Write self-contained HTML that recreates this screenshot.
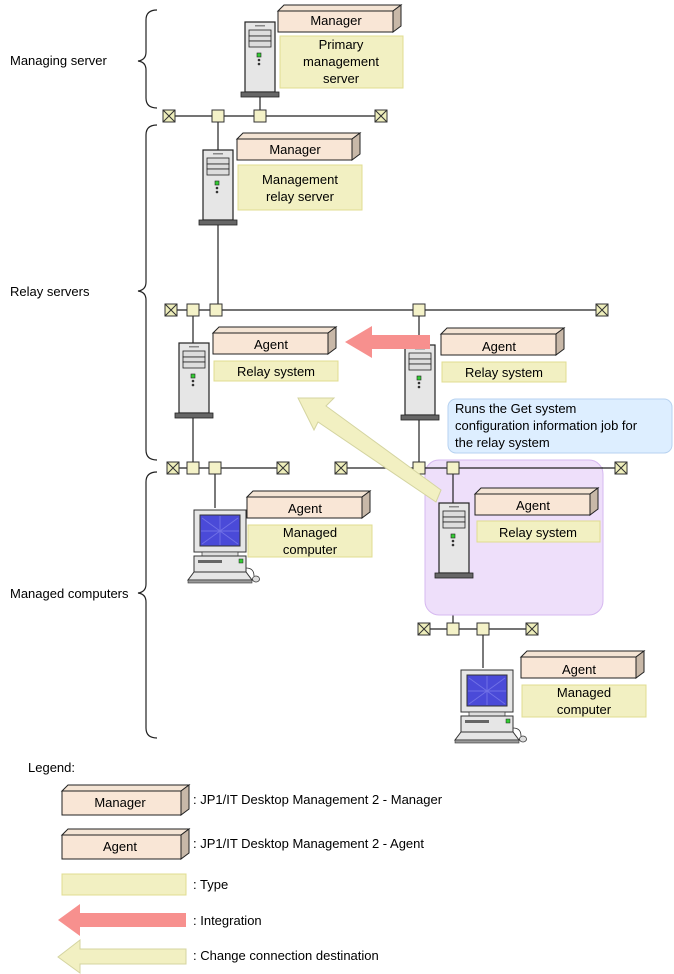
<!DOCTYPE html>
<html><head><meta charset="utf-8"><style>
body{margin:0;background:#fff}
svg{display:block;font-family:"Liberation Sans",sans-serif}
text{font-size:13px;fill:#000}
</style></head><body>
<svg width="674" height="974" viewBox="0 0 674 974" xmlns="http://www.w3.org/2000/svg">
<defs>
<g id="srv">
<rect x="0" y="0" width="30" height="70" fill="#e6e6e6" stroke="#222" stroke-width="1.2"/>
<rect x="4" y="8" width="22" height="6" fill="#ddd" stroke="#222" stroke-width="0.8"/>
<rect x="4" y="14" width="22" height="5" fill="#ddd" stroke="#222" stroke-width="0.8"/>
<rect x="4" y="19" width="22" height="6" fill="#ddd" stroke="#222" stroke-width="0.8"/>
<rect x="10" y="3" width="10" height="1.5" fill="#888"/>
<rect x="12" y="31" width="4" height="4" fill="#3c3" stroke="#222" stroke-width="0.6"/>
<circle cx="14" cy="38" r="1.3" fill="#333"/><circle cx="14" cy="42" r="1.3" fill="#333"/>
<rect x="-4" y="70" width="38" height="5" fill="#666" stroke="#222" stroke-width="0.8"/>
</g>
<g id="pc">
<rect x="6" y="0" width="52" height="42" fill="#e6e6e6" stroke="#333"/>
<rect x="12" y="5" width="40" height="31" fill="#4a4ad8" stroke="#333"/>
<path d="M14,8 L50,34 M14,34 L50,8 M32,6 L32,35 M13,21 L51,21" stroke="#8a8af0" stroke-width="1" opacity="0.6"/>
<rect x="14" y="42" width="36" height="4" fill="#ddd" stroke="#333" stroke-width="0.7"/>
<rect x="6" y="46" width="52" height="16" fill="#e6e6e6" stroke="#333"/>
<rect x="10" y="50" width="24" height="3" fill="#666"/>
<rect x="51" y="49" width="4" height="4" fill="#3c3" stroke="#222" stroke-width="0.5"/>
<path d="M6,62 L58,62 L64,70 L0,70 Z" fill="#e6e6e6" stroke="#333"/>
<rect x="0" y="70" width="64" height="3" fill="#999" stroke="#333" stroke-width="0.6"/>
<path d="M58,58 Q66,58 66,66" fill="none" stroke="#333" stroke-width="0.8"/>
<ellipse cx="68" cy="69" rx="3.5" ry="3" fill="#ddd" stroke="#333" stroke-width="0.8"/>
</g>
<g id="term"><rect x="-6" y="-6" width="12" height="12" fill="#eeeebb" stroke="#333"/><path d="M-6,-6 L6,6 M6,-6 L-6,6" stroke="#333"/></g>
<g id="sq"><rect x="-6" y="-6" width="12" height="12" fill="#f4f2c8" stroke="#333"/></g>
</defs>

<!-- braces -->
<g fill="none" stroke="#222" stroke-width="1.2">
<path d="M157,10 Q146,10 146,20 L146,52 Q146,60 138,61 Q146,62 146,70 L146,98 Q146,108 157,108"/>
<path d="M157,125 Q146,125 146,135 L146,282 Q146,290 138,291 Q146,292 146,300 L146,450 Q146,460 157,460"/>
<path d="M157,472 Q146,472 146,482 L146,584 Q146,592 138,593 Q146,594 146,602 L146,728 Q146,738 157,738"/>
</g>
<text x="10" y="65">Managing server</text>
<text x="10" y="296">Relay servers</text>
<text x="10" y="598">Managed computers</text>

<!-- connectors -->
<g stroke="#222" stroke-width="1.2" fill="none">
<path d="M169,116 H381 M260,116 V97 M218,116 V150"/>
<path d="M218,225 V310 M171,310 H602 M193,310 V343 M419,310 V345 M193,417 V468 M419,417 V468"/>
<path d="M173,468 H283 M215,468 V508 M341,468 H621 M453,468 V503 M453,577 V629 M424,629 H532 M483,629 V668"/>
</g>

<!-- purple region -->
<rect x="425" y="460" width="178" height="155" rx="14" fill="#eedffa" stroke="#d6b8f0" stroke-width="1"/>
<path d="M425,468 H603 M453,468 V503" stroke="#222" stroke-width="1.2"/>

<!-- terminators / squares -->
<use href="#term" x="169" y="116"/><use href="#term" x="381" y="116"/>
<use href="#sq" x="218" y="116"/><use href="#sq" x="260" y="116"/>
<use href="#term" x="171" y="310"/><use href="#term" x="602" y="310"/>
<use href="#sq" x="193" y="310"/><use href="#sq" x="216" y="310"/><use href="#sq" x="419" y="310"/>
<use href="#term" x="173" y="468"/><use href="#term" x="283" y="468"/>
<use href="#sq" x="193" y="468"/><use href="#sq" x="215" y="468"/>
<use href="#term" x="341" y="468"/><use href="#term" x="621" y="468"/>
<use href="#sq" x="419" y="468"/><use href="#sq" x="453" y="468"/>
<use href="#term" x="424" y="629"/><use href="#term" x="532" y="629"/>
<use href="#sq" x="453" y="629"/><use href="#sq" x="483" y="629"/>

<!-- servers -->
<use href="#srv" x="245" y="22"/>
<use href="#srv" x="203" y="150"/>
<use href="#srv" x="179" y="343"/>
<use href="#srv" x="405" y="345"/>
<use href="#srv" x="439" y="503"/>
<use href="#pc" x="188" y="510"/>
<use href="#pc" x="455" y="670"/>

<!-- boxes: 3D -->
<g stroke="#222" stroke-width="1">
<g transform="translate(278,5)"><path d="M0,6 L6,0 H123 L115,6 Z" fill="#f4e4d4"/><path d="M115,6 L123,0 V21 L115,27 Z" fill="#c8b8a8"/><rect x="0" y="6" width="115" height="21" fill="#f9e6d6"/></g>
<g transform="translate(237,133)"><path d="M0,6 L6,0 H123 L115,6 Z" fill="#f4e4d4"/><path d="M115,6 L123,0 V21 L115,27 Z" fill="#c8b8a8"/><rect x="0" y="6" width="115" height="21" fill="#f9e6d6"/></g>
<g transform="translate(213,327)"><path d="M0,6 L6,0 H123 L115,6 Z" fill="#f4e4d4"/><path d="M115,6 L123,0 V21 L115,27 Z" fill="#c8b8a8"/><rect x="0" y="6" width="115" height="21" fill="#f9e6d6"/></g>
<g transform="translate(441,328)"><path d="M0,6 L6,0 H123 L115,6 Z" fill="#f4e4d4"/><path d="M115,6 L123,0 V21 L115,27 Z" fill="#c8b8a8"/><rect x="0" y="6" width="115" height="21" fill="#f9e6d6"/></g>
<g transform="translate(247,491)"><path d="M0,6 L6,0 H123 L115,6 Z" fill="#f4e4d4"/><path d="M115,6 L123,0 V21 L115,27 Z" fill="#c8b8a8"/><rect x="0" y="6" width="115" height="21" fill="#f9e6d6"/></g>
<g transform="translate(475,488)"><path d="M0,6 L6,0 H123 L115,6 Z" fill="#f4e4d4"/><path d="M115,6 L123,0 V21 L115,27 Z" fill="#c8b8a8"/><rect x="0" y="6" width="115" height="21" fill="#f9e6d6"/></g>
<g transform="translate(521,651)"><path d="M0,6 L6,0 H123 L115,6 Z" fill="#f4e4d4"/><path d="M115,6 L123,0 V21 L115,27 Z" fill="#c8b8a8"/><rect x="0" y="6" width="115" height="21" fill="#f9e6d6"/></g>
<g transform="translate(62,785)"><path d="M0,6 L6,0 H127 L119,6 Z" fill="#f4e4d4"/><path d="M119,6 L127,0 V24 L119,30 Z" fill="#c8b8a8"/><rect x="0" y="6" width="119" height="24" fill="#f9e6d6"/></g>
<g transform="translate(62,829)"><path d="M0,6 L6,0 H127 L119,6 Z" fill="#f4e4d4"/><path d="M119,6 L127,0 V24 L119,30 Z" fill="#c8b8a8"/><rect x="0" y="6" width="119" height="24" fill="#f9e6d6"/></g>
</g>
<g fill="#f2f0c2" stroke="#e0dd90" stroke-width="1">
<rect x="280" y="36" width="123" height="52"/>
<rect x="238" y="165" width="124" height="45"/>
<rect x="214" y="361" width="124" height="20"/>
<rect x="442" y="362" width="124" height="20"/>
<rect x="248" y="525" width="124" height="32"/>
<rect x="477" y="521" width="123" height="21"/>
<rect x="522" y="685" width="124" height="32"/>
<rect x="62" y="874" width="124" height="21"/>
</g>

<g text-anchor="middle">
<text x="336" y="25">Manager</text>
<text x="341" y="49">Primary</text><text x="341" y="66">management</text><text x="341" y="83">server</text>
<text x="295" y="154">Manager</text>
<text x="300" y="184">Management</text><text x="300" y="201">relay server</text>
<text x="271" y="349">Agent</text><text x="276" y="376">Relay system</text>
<text x="499" y="351">Agent</text><text x="504" y="377">Relay system</text>
<text x="305" y="513">Agent</text><text x="310" y="537">Managed</text><text x="310" y="554">computer</text>
<text x="533" y="510">Agent</text><text x="538" y="537">Relay system</text>
<text x="579" y="674">Agent</text><text x="584" y="697">Managed</text><text x="584" y="714">computer</text>
<text x="120" y="807">Manager</text>
<text x="120" y="851">Agent</text>
</g>

<!-- red arrow -->
<path d="M430,335 H372 V326 L345,342 L372,358 V349 H430 Z" fill="#f7908e"/>
<!-- callout -->
<rect x="448" y="399" width="224" height="54" rx="8" fill="#ddeeff" stroke="#b7d2f0"/>
<text x="455" y="413">Runs the Get system</text>
<text x="455" y="430">configuration information job for</text>
<text x="455" y="447">the relay system</text>
<!-- yellow arrow -->
<path d="M441,490 L436,502 L318,422 L314,430 L298,398 L334,398 L326,406 L441,490 Z" fill="#f2f0c2" stroke="#d4d4a0" stroke-width="1"/>

<!-- legend -->
<text x="28" y="772">Legend:</text>
<text x="193" y="804">: JP1/IT Desktop Management 2 - Manager</text>
<text x="193" y="848">: JP1/IT Desktop Management 2 - Agent</text>
<text x="193" y="889">: Type</text>
<path d="M186,913 H80 V904 L58,920 L80,936 V927 H186 Z" fill="#f7908e"/>
<text x="193" y="925">: Integration</text>
<path d="M186,949 H80 V940 L58,957 L80,973 V964 H186 Z" fill="#f2f0c2" stroke="#d4d4a0"/>
<text x="193" y="960">: Change connection destination</text>
</svg>
</body></html>
